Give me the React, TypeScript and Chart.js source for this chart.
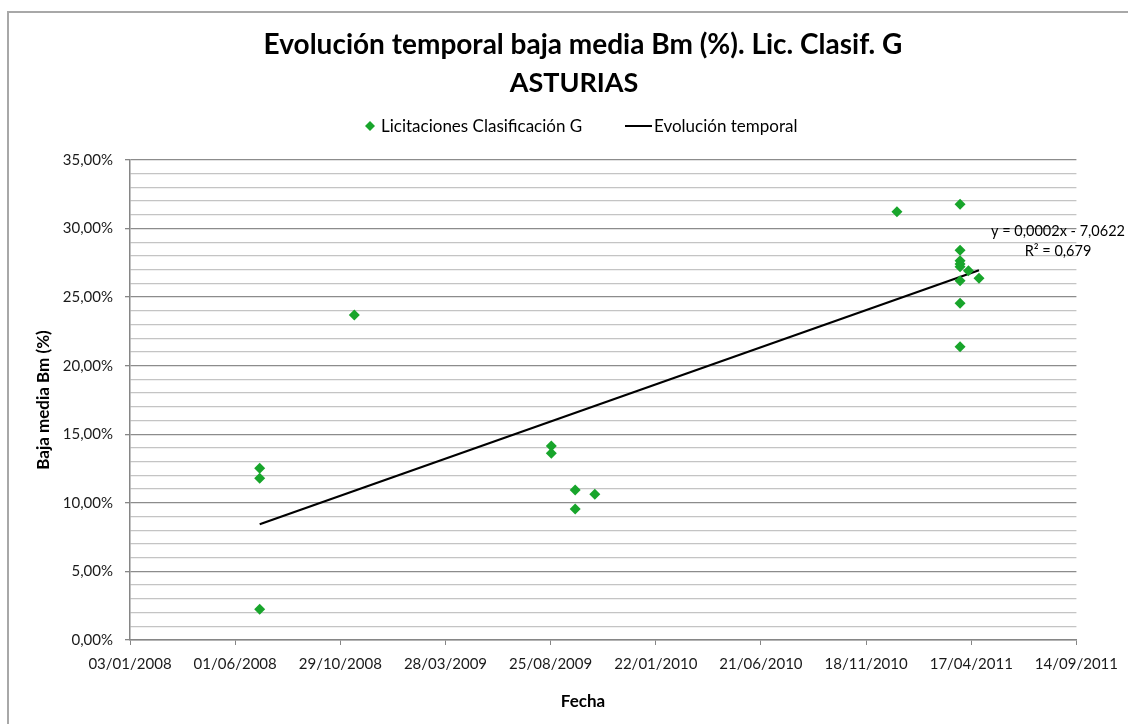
import React, { useEffect, useRef } from 'react';
import { Chart, registerables } from 'chart.js';

Chart.register(...registerables);

const FONT = 'Lato, "Open Sans", sans-serif';

const titleLines = ['Evolución temporal baja media Bm (%). Lic. Clasif. G', 'ASTURIAS'];
const seriesName = 'Licitaciones Clasificación G';
const trendName = 'Evolución temporal';
const xTitle = 'Fecha';
const yTitle = 'Baja media Bm (%)';
const trendEquation = 'y = 0,0002x - 7,0622';
const trendR2 = 'R² = 0,679';

// scatter points: date and baja media (%)
const pointDates = [
  '2008-07-06', '2008-07-06', '2008-07-06',
  '2008-11-18',
  '2009-08-26', '2009-08-26',
  '2009-09-29', '2009-09-29',
  '2009-10-27',
  '2011-01-01',
  '2011-04-01', '2011-04-01', '2011-04-01', '2011-04-01', '2011-04-01', '2011-04-01', '2011-04-01', '2011-04-01',
  '2011-04-13',
  '2011-04-28',
];
const pointValues = [
  12.52, 11.79, 2.24,
  23.7,
  14.15, 13.61,
  10.94, 9.55,
  10.62,
  31.23,
  31.77, 28.42, 27.66, 27.42, 27.22, 26.2, 24.55, 21.39,
  26.93,
  26.37,
];

// linear trend line end points
const trendDates = ['2008-07-06', '2011-04-28'];
const trendValues = [8.44, 26.96];

// axis settings
const xAxisStart = '2008-01-03';
const xAxisEnd = '2011-09-14';
const xTickStepDays = 150;
const yAxisMin = 0;
const yAxisMax = 35;
const yMajorStep = 5;
const yMinorStep = 1;

const EXCEL_EPOCH = Date.UTC(1899, 11, 30);
function toSerial(s: string): number {
  const [y, m, d] = s.split('-').map(Number);
  return Math.round((Date.UTC(y, m - 1, d) - EXCEL_EPOCH) / 86400000);
}
function serialToLabel(n: number): string {
  const dt = new Date(EXCEL_EPOCH + Math.round(n) * 86400000);
  const dd = String(dt.getUTCDate()).padStart(2, '0');
  const mm = String(dt.getUTCMonth() + 1).padStart(2, '0');
  return `${dd}/${mm}/${dt.getUTCFullYear()}`;
}
function pctLabel(v: number): string {
  return v.toFixed(2).replace('.', ',') + '%';
}

const GREEN = '#18a52b';

const decorPlugin = {
  id: 'decor',
  afterDraw(chart: any) {
    const ctx = chart.ctx as CanvasRenderingContext2D;
    ctx.save();
    // outer frame
    ctx.strokeStyle = '#a8a8a8';
    ctx.lineWidth = 2;
    ctx.beginPath();
    ctx.moveTo(8, 730);
    ctx.lineTo(8, 12);
    ctx.lineTo(1130, 12);
    ctx.stroke();

    ctx.fillStyle = '#000';
    ctx.textAlign = 'center';
    ctx.textBaseline = 'middle';
    // titles
    ctx.font = `bold 28px ${FONT}`;
    ctx.fillText(titleLines[0], 583, 45);
    ctx.font = `bold 27px ${FONT}`;
    ctx.fillText(titleLines[1], 574, 83);

    // legend
    ctx.font = `17px ${FONT}`;
    ctx.textAlign = 'left';
    ctx.fillStyle = GREEN;
    ctx.beginPath();
    ctx.moveTo(370, 121);
    ctx.lineTo(375, 126);
    ctx.lineTo(370, 131);
    ctx.lineTo(365, 126);
    ctx.closePath();
    ctx.fill();
    ctx.fillStyle = '#000';
    ctx.fillText(seriesName, 381, 127);
    ctx.strokeStyle = '#000';
    ctx.lineWidth = 2;
    ctx.beginPath();
    ctx.moveTo(625, 126);
    ctx.lineTo(652, 126);
    ctx.stroke();
    ctx.fillText(trendName, 654, 127);

    // axis titles
    ctx.font = `bold 17px ${FONT}`;
    ctx.textAlign = 'center';
    ctx.fillText(xTitle, 583, 702);
    ctx.save();
    ctx.translate(44, 400);
    ctx.rotate(-Math.PI / 2);
    ctx.fillText(yTitle, 0, 0);
    ctx.restore();

    // trend equation
    ctx.font = `14.5px ${FONT}`;
    ctx.fillText(trendEquation, 1058, 231);
    ctx.fillText(trendR2, 1058, 251);
    ctx.restore();
  },
};

export default function App() {
  const ref = useRef<HTMLCanvasElement>(null);
  useEffect(() => {
    if (!ref.current) return;
    const scatterData = pointDates.map((d, i) => ({ x: toSerial(d), y: pointValues[i] }));
    const trendData = trendDates.map((d, i) => ({ x: toSerial(d), y: trendValues[i] }));
    const chart = new Chart(ref.current, {
      type: 'scatter',
      data: {
        datasets: [
          {
            label: seriesName,
            data: scatterData,
            pointStyle: 'rectRot',
            pointRadius: 5.5,
            pointBackgroundColor: GREEN,
            pointBorderWidth: 0,
            backgroundColor: GREEN,
            borderColor: GREEN,
          },
          {
            label: trendName,
            data: trendData,
            showLine: true,
            borderColor: '#000',
            borderWidth: 2.2,
            pointRadius: 0,
          },
        ],
      },
      options: {
        responsive: false,
        animation: false,
        layout: { padding: { left: 0, top: 160, right: 50, bottom: 0 } },
        plugins: { legend: { display: false }, title: { display: false }, tooltip: { enabled: false } },
        scales: {
          x: {
            type: 'linear',
            min: toSerial(xAxisStart),
            max: toSerial(xAxisEnd),
            afterFit: (s: any) => { s.height = 84; },
            border: { color: '#868686', width: 1.5 },
            grid: { display: true, drawOnChartArea: false, drawTicks: true, tickLength: 5, color: '#868686' },
            ticks: {
              stepSize: xTickStepDays,
              autoSkip: false,
              maxRotation: 0,
              padding: 10,
              color: '#1a1a1a',
              font: { family: FONT, size: 15 },
              callback: (v: any) => serialToLabel(Number(v)),
            },
          },
          y: {
            min: yAxisMin,
            max: yAxisMax,
            afterFit: (s: any) => { s.width = 130; },
            border: { color: '#868686', width: 1.5 },
            grid: {
              tickLength: 5,
              color: (c: any) => (Math.round(c.tick.value) % yMajorStep === 0 ? '#8c8c8c' : '#c4c4c4'),
              tickColor: (c: any) => (Math.round(c.tick.value) % yMajorStep === 0 ? '#868686' : 'rgba(0,0,0,0)'),
              lineWidth: 1.3,
            },
            ticks: {
              stepSize: yMinorStep,
              autoSkip: false,
              padding: 12,
              color: '#1a1a1a',
              font: { family: FONT, size: 15 },
              callback: (v: any) => (Math.round(Number(v)) % yMajorStep === 0 ? pctLabel(Number(v)) : ''),
            },
          },
        },
      },
      plugins: [decorPlugin],
    });
    return () => chart.destroy();
  }, []);
  return (
    <div style={{ position: 'fixed', left: 0, top: 0, width: 1128, height: 724, background: '#fff' }}>
      <canvas ref={ref} width={1128} height={724} style={{ display: 'block' }} />
    </div>
  );
}
